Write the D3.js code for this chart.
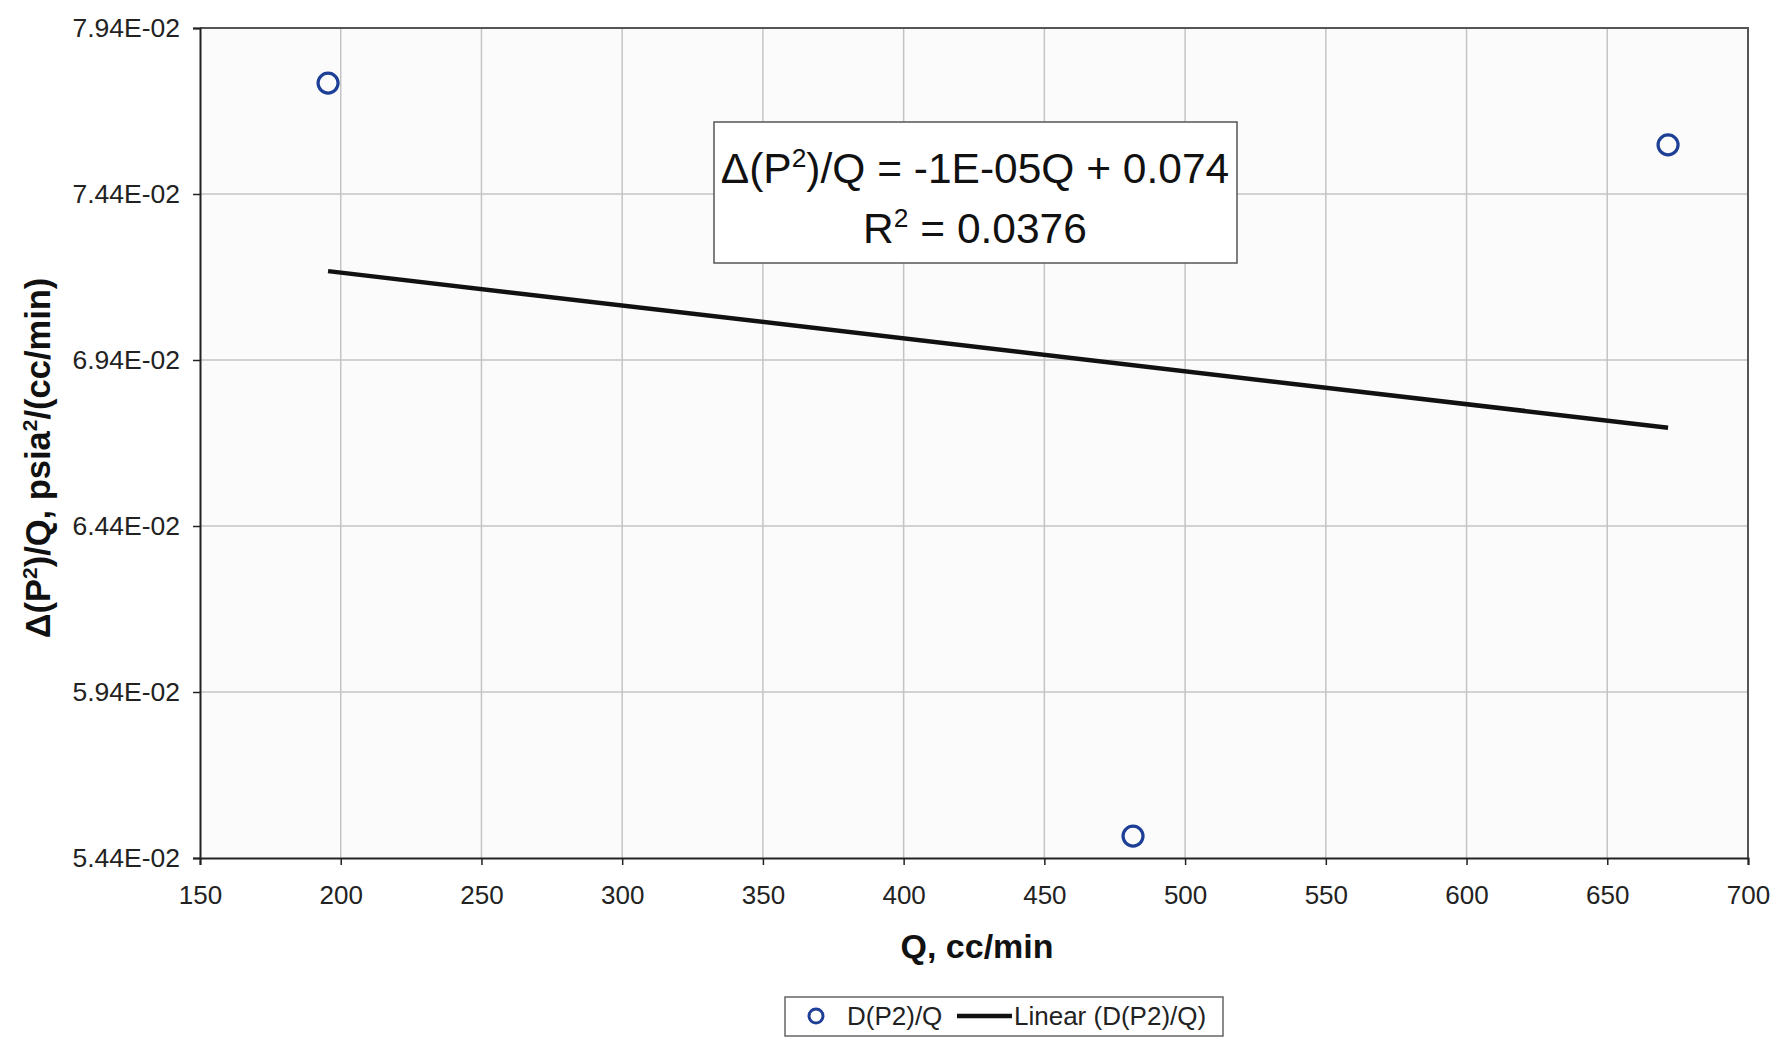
<!DOCTYPE html>
<html>
<head>
<meta charset="utf-8">
<script src="https://cdn.jsdelivr.net/npm/d3@7"></script>
<style>
  html, body { margin: 0; padding: 0; background: #ffffff; }
  svg { display: block; }
  text { font-family: "Liberation Sans", Arial, Helvetica, sans-serif; }
</style>
</head>
<body>
<svg id="chart" width="1776" height="1046"></svg>
<script>
// ---- data ----
const seriesName = "D(P2)/Q";
const trendName = "Linear (D(P2)/Q)";
const qValues = [195.5, 671.6, 481.5];          // Q, cc/min
const dp2qValues = [0.07774, 0.07588, 0.05506];  // Δ(P²)/Q
const xTicks = [150, 200, 250, 300, 350, 400, 450, 500, 550, 600, 650, 700];
const yTicks = [0.0544, 0.0594, 0.0644, 0.0694, 0.0744, 0.0794];
const yTickLabels = ["5.44E-02", "5.94E-02", "6.44E-02", "6.94E-02", "7.44E-02", "7.94E-02"];
const equationText = ["Δ(P", "2", ")/Q = -1E-05Q + 0.074"];
const r2Text = ["R", "2", " = 0.0376"];

// ---- layout ----
const svg = d3.select("#chart");
const L = 200, R = 1748, T = 28, B = 858;
const x = d3.scaleLinear().domain([150, 700]).range([L, R]);
const y = d3.scaleLinear().domain([0.0544, 0.0794]).range([B, T]);

// plot background
svg.append("rect").attr("x", L).attr("y", T).attr("width", R - L).attr("height", B - T)
  .attr("fill", "#fbfbfb");

// gridlines
svg.append("g").selectAll("line").data(xTicks.filter(d => d > 150 && d < 700)).join("line")
  .attr("x1", d => x(d)).attr("x2", d => x(d)).attr("y1", T).attr("y2", B)
  .attr("stroke", "#c4c4c4").attr("stroke-width", 1.5);
svg.append("g").selectAll("line").data(yTicks.filter(d => d > 0.0545 && d < 0.0793)).join("line")
  .attr("x1", L).attr("x2", R).attr("y1", d => y(d)).attr("y2", d => y(d))
  .attr("stroke", "#c4c4c4").attr("stroke-width", 1.5);

// frame top/right
svg.append("path").attr("d", `M${L},${T}H${R}V${B}`).attr("fill", "none")
  .attr("stroke", "#555").attr("stroke-width", 2);

// axes
const xAxis = d3.axisBottom(x).tickValues(xTicks).tickSize(7).tickPadding(21).tickFormat(d3.format("d"));
const gx = svg.append("g").attr("transform", `translate(0,${B})`).call(xAxis);
gx.select(".domain").attr("stroke", "#222").attr("stroke-width", 2);
gx.selectAll(".tick line").attr("stroke", "#222").attr("stroke-width", 1.5);
gx.selectAll(".tick text").attr("font-size", 26).attr("fill", "#222")
  .attr("font-family", "Liberation Sans, Arial, sans-serif");

const yAxis = d3.axisLeft(y).tickValues(yTicks).tickSize(7).tickPadding(13)
  .tickFormat((d, i) => yTickLabels[i]);
const gy = svg.append("g").attr("transform", `translate(${L},0)`).call(yAxis);
gy.select(".domain").attr("stroke", "#222").attr("stroke-width", 2);
gy.selectAll(".tick line").attr("stroke", "#222").attr("stroke-width", 1.5);
gy.selectAll(".tick text").attr("font-size", 26.5).attr("fill", "#222")
  .attr("font-family", "Liberation Sans, Arial, sans-serif");

// linear regression from data
const n = qValues.length;
const mq = d3.mean(qValues), my = d3.mean(dp2qValues);
let sxy = 0, sxx = 0;
for (let i = 0; i < n; i++) { sxy += (qValues[i] - mq) * (dp2qValues[i] - my); sxx += (qValues[i] - mq) ** 2; }
const slope = sxy / sxx, intercept = my - slope * mq;
const qExt = d3.extent(qValues);
const trendPts = qExt.map(q => [q, intercept + slope * q]);
svg.append("path").datum(trendPts)
  .attr("d", d3.line().x(d => x(d[0])).y(d => y(d[1])))
  .attr("fill", "none").attr("stroke", "#111").attr("stroke-width", 4.5);

// points
svg.append("g").selectAll("circle").data(qValues.map((q, i) => [q, dp2qValues[i]])).join("circle")
  .attr("cx", d => x(d[0])).attr("cy", d => y(d[1])).attr("r", 10)
  .attr("fill", "none").attr("stroke", "#1d3f95").attr("stroke-width", 3.2);

// equation box
svg.append("rect").attr("x", 714).attr("y", 122).attr("width", 523).attr("height", 141)
  .attr("fill", "#ffffff").attr("stroke", "#555").attr("stroke-width", 1.5);
function supText(sel, parts, size) {
  sel.append("tspan").text(parts[0]);
  sel.append("tspan").attr("font-size", size * 0.62).attr("dy", -size * 0.38).text(parts[1]);
  sel.append("tspan").attr("dy", size * 0.38).text(parts[2]);
}
const eq1 = svg.append("text").attr("x", 975).attr("y", 183).attr("text-anchor", "middle")
  .attr("font-size", 42.5).attr("fill", "#111");
supText(eq1, equationText, 42.5);
const eq2 = svg.append("text").attr("x", 975).attr("y", 243).attr("text-anchor", "middle")
  .attr("font-size", 42.5).attr("fill", "#111");
supText(eq2, r2Text, 42.5);

// axis titles
svg.append("text").attr("x", 977).attr("y", 958).attr("text-anchor", "middle")
  .attr("font-size", 34).attr("font-weight", "bold").attr("fill", "#111").text("Q, cc/min");
const yt = svg.append("text").attr("transform", "translate(50,458) rotate(-90)")
  .attr("text-anchor", "middle").attr("font-size", 34.5).attr("font-weight", "bold").attr("fill", "#111");
yt.append("tspan").text("Δ(P");
yt.append("tspan").attr("font-size", 21).attr("dy", -13).text("2");
yt.append("tspan").attr("dy", 13).text(")/Q, psia");
yt.append("tspan").attr("font-size", 21).attr("dy", -13).text("2");
yt.append("tspan").attr("dy", 13).text("/(cc/min)");

// legend
const lg = svg.append("g");
lg.append("rect").attr("x", 785).attr("y", 997).attr("width", 438).attr("height", 39)
  .attr("fill", "#fff").attr("stroke", "#666").attr("stroke-width", 1.5);
lg.append("circle").attr("cx", 816).attr("cy", 1016).attr("r", 7)
  .attr("fill", "none").attr("stroke", "#1d3f95").attr("stroke-width", 3);
lg.append("text").attr("x", 847).attr("y", 1025).attr("font-size", 26).attr("fill", "#222").text(seriesName);
lg.append("line").attr("x1", 957).attr("x2", 1012).attr("y1", 1016).attr("y2", 1016)
  .attr("stroke", "#111").attr("stroke-width", 4.5);
lg.append("text").attr("x", 1014).attr("y", 1025).attr("font-size", 26).attr("fill", "#222").text(trendName);
</script>
</body>
</html>
